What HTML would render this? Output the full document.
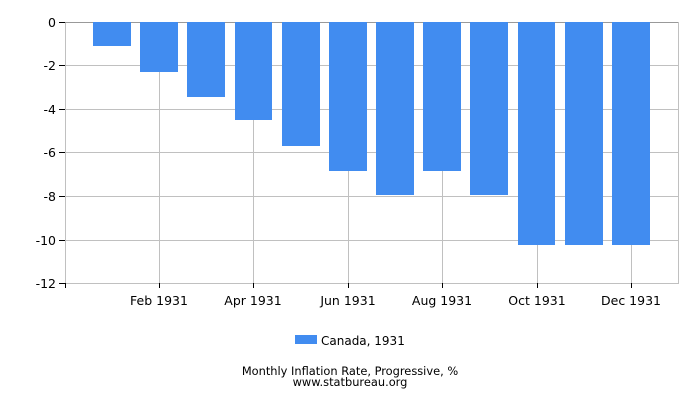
<!DOCTYPE html>
<html><head><meta charset="utf-8"><style>body{margin:0;background:#fff}svg{display:block}text{font-family:"DejaVu Sans","Liberation Sans",sans-serif;fill:#000}</style></head>
<body>
<svg width="700" height="400" xmlns="http://www.w3.org/2000/svg">
<g stroke="#c0c0c0" stroke-width="1">
<line x1="65" y1="65.5" x2="678" y2="65.5"/>
<line x1="65" y1="109.5" x2="678" y2="109.5"/>
<line x1="65" y1="152.5" x2="678" y2="152.5"/>
<line x1="65" y1="196.5" x2="678" y2="196.5"/>
<line x1="65" y1="240.5" x2="678" y2="240.5"/>
<line x1="65" y1="283.5" x2="678" y2="283.5"/>
<line x1="65.5" y1="22" x2="65.5" y2="284"/>
<line x1="159.5" y1="22" x2="159.5" y2="284"/>
<line x1="253.5" y1="22" x2="253.5" y2="284"/>
<line x1="348.5" y1="22" x2="348.5" y2="284"/>
<line x1="442.5" y1="22" x2="442.5" y2="284"/>
<line x1="537.5" y1="22" x2="537.5" y2="284"/>
<line x1="631.5" y1="22" x2="631.5" y2="284"/>
<line x1="678.5" y1="22" x2="678.5" y2="284"/>
</g>
<line x1="65" y1="22.5" x2="678" y2="22.5" stroke="#999" stroke-width="1"/>
<g fill="#418cf0">
<rect x="93" y="22" width="38" height="24"/>
<rect x="140" y="22" width="38" height="50"/>
<rect x="187" y="22" width="38" height="75"/>
<rect x="235" y="22" width="37" height="98"/>
<rect x="282" y="22" width="38" height="124"/>
<rect x="329" y="22" width="38" height="149"/>
<rect x="376" y="22" width="38" height="173"/>
<rect x="423" y="22" width="38" height="149"/>
<rect x="470" y="22" width="38" height="173"/>
<rect x="518" y="22" width="37" height="223"/>
<rect x="565" y="22" width="38" height="223"/>
<rect x="612" y="22" width="38" height="223"/>
</g>
<g stroke="#000" stroke-width="1">
<line x1="59" y1="22.5" x2="65" y2="22.5"/>
<line x1="59" y1="65.5" x2="65" y2="65.5"/>
<line x1="59" y1="109.5" x2="65" y2="109.5"/>
<line x1="59" y1="152.5" x2="65" y2="152.5"/>
<line x1="59" y1="196.5" x2="65" y2="196.5"/>
<line x1="59" y1="240.5" x2="65" y2="240.5"/>
<line x1="59" y1="283.5" x2="65" y2="283.5"/>
<line x1="65.5" y1="283" x2="65.5" y2="288"/>
<line x1="159.5" y1="283" x2="159.5" y2="288"/>
<line x1="253.5" y1="283" x2="253.5" y2="288"/>
<line x1="348.5" y1="283" x2="348.5" y2="288"/>
<line x1="442.5" y1="283" x2="442.5" y2="288"/>
<line x1="537.5" y1="283" x2="537.5" y2="288"/>
<line x1="631.5" y1="283" x2="631.5" y2="288"/>
</g>
<g font-size="12.5" text-anchor="end">
<text x="56" y="27">0</text>
<text x="56" y="70">-2</text>
<text x="56" y="114">-4</text>
<text x="56" y="157">-6</text>
<text x="56" y="201">-8</text>
<text x="56" y="245">-10</text>
<text x="56" y="288">-12</text>
</g>
<g font-size="12.5" text-anchor="middle">
<text x="159" y="305">Feb 1931</text>
<text x="253" y="305">Apr 1931</text>
<text x="348" y="305">Jun 1931</text>
<text x="442" y="305">Aug 1931</text>
<text x="537" y="305">Oct 1931</text>
<text x="631" y="305">Dec 1931</text>
</g>
<rect x="295" y="335" width="22" height="9" fill="#418cf0"/>
<text x="321" y="345" font-size="12">Canada, 1931</text>
<text x="350" y="375" font-size="11.4" text-anchor="middle">Monthly Inflation Rate, Progressive, %</text>
<text x="350" y="386" font-size="11.4" text-anchor="middle">www.statbureau.org</text>
</svg>
</body></html>
